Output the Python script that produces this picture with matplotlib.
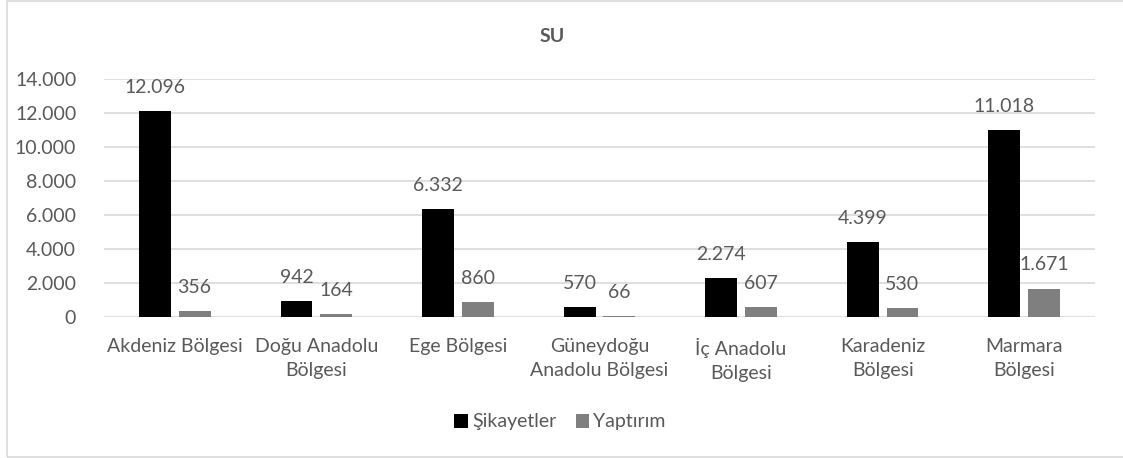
import numpy as np
import matplotlib.pyplot as plt
from matplotlib.patches import Rectangle
from matplotlib.ticker import FuncFormatter

regions = ['Akdeniz Bölgesi', 'Doğu Anadolu\nBölgesi', 'Ege Bölgesi',
           'Güneydoğu\nAnadolu Bölgesi', 'İç Anadolu\nBölgesi',
           'Karadeniz\nBölgesi', 'Marmara\nBölgesi']
sikayetler = [12096, 942, 6332, 570, 2274, 4399, 11018]
yaptirim = [356, 164, 860, 66, 607, 530, 1671]

plt.rcParams['font.family'] = ['Lato', 'DejaVu Sans']
txt = '#595959'
fs = 14

def dotfmt(v, pos=None):
    return f'{int(round(v)):,}'.replace(',', '.')

fig = plt.figure(figsize=(11.23, 4.58), dpi=100)
ax = fig.add_axes([104 / 1123, 1 - 317 / 458, 991 / 1123, 238 / 458])

x = np.arange(len(regions))
w = 0.225
b1 = ax.bar(x - 0.14, sikayetler, w, color='black', label='Şikayetler', zorder=3)
b2 = ax.bar(x + 0.14, yaptirim, w, color='#7f7f7f', label='Yaptırım', zorder=3)

for bars, vals in ((b1, sikayetler), (b2, yaptirim)):
    for r, v in zip(bars, vals):
        ax.annotate(dotfmt(v), (r.get_x() + r.get_width() / 2, v),
                    xytext=(0, 17), textcoords='offset points',
                    ha='center', va='center', fontsize=fs, color=txt)

ax.set_xlim(-0.5, len(regions) - 0.5)
ax.set_ylim(0, 14000)
ax.set_yticks(np.arange(0, 14001, 2000))
ax.yaxis.set_major_formatter(FuncFormatter(dotfmt))
ax.grid(axis='y', color='#d9d9d9', linewidth=1.2, zorder=0)
for s in ax.spines.values():
    s.set_visible(False)
ax.tick_params(axis='both', length=0, labelsize=fs, labelcolor=txt)
ax.tick_params(axis='y', pad=20)
ax.tick_params(axis='x', pad=15)
ax.set_xticks(x)
ax.set_xticklabels(regions, linespacing=1.5)

fig.text(552 / 1123, 1 - 36 / 458, 'SU', ha='center', va='center',
         fontsize=14, fontweight='bold', color=txt)

fig.legend(loc='center', bbox_to_anchor=(560 / 1123, 1 - 422 / 458), ncol=2,
           frameon=False, fontsize=fs, labelcolor=txt, handlelength=0.7,
           handleheight=0.7, handletextpad=0.2, columnspacing=1.0)

fig.add_artist(Rectangle((7 / 1123, 1 / 458), 1120 / 1123, 456 / 458,
                         transform=fig.transFigure, fill=False,
                         edgecolor='#d9d9d9', linewidth=1.2))

fig.savefig('out.png', dpi=100)
